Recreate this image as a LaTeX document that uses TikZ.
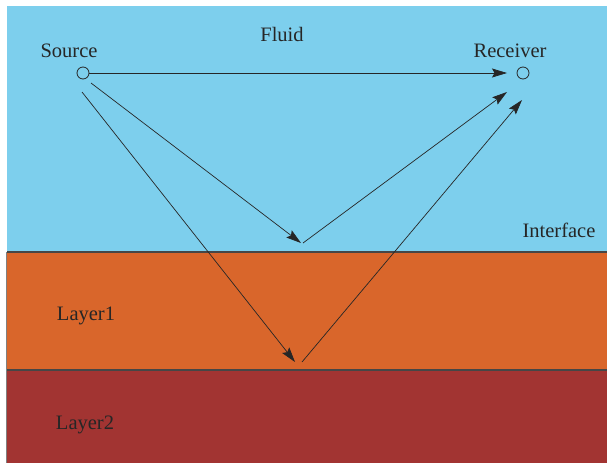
\documentclass[tikz,border=0pt]{standalone}
\usepackage{fontspec}
\setmainfont{Liberation Serif}
\usetikzlibrary{arrows.meta}
\definecolor{fluidc}{RGB}{125,207,237}
\definecolor{layoc}{RGB}{217,102,43}
\definecolor{laytc}{RGB}{162,52,50}
\definecolor{edgec}{RGB}{70,70,70}
\begin{document}
\begin{tikzpicture}[x=1pt,y=-1pt,
  lbl/.style={font=\fontsize{20.5}{24}\selectfont, text=black!85, inner sep=0},
  port/.style={circle, draw=black!85, line width=0.8pt, minimum size=12pt, inner sep=0},
  ray/.style={draw=black!85, line width=0.7pt, -{Stealth[length=15pt,width=9pt,inset=2.5pt]}}]
\useasboundingbox (0,0) rectangle (607,463);
\fill[white] (0,0) rectangle (607,463);
\fill[fluidc] (7,6) rectangle (607,252);
\fill[layoc] (7,252) rectangle (607,370);
\fill[laytc] (7,370) rectangle (607,463);
\draw[edgec, line width=1.2pt] (7,252) -- (607,252);
\draw[edgec, line width=1.2pt] (7,370) -- (607,370);
\draw[gray, line width=1pt] (6.5,252) -- (6.5,463);
\node[lbl] (src) at (69,51) {Source};
\node[lbl] (fluid) at (282,34) {Fluid};
\node[lbl] (rcv) at (510,51) {Receiver};
\node[lbl] (intf) at (559,230) {Interface};
\node[lbl] (l1) at (86,316) {Layer1};
\node[lbl] (l2) at (85,425) {Layer2};
\node[port] (s) at (83,73) {};
\node[port] (r) at (523,73) {};
\coordinate (p1) at (301,243);
\coordinate (p1b) at (303,243);
\coordinate (p2) at (295,362);
\coordinate (p2b) at (302,362);
\coordinate (rt1) at (507,92);
\coordinate (rt2) at (522,100);
\coordinate (sd1) at (91,83);
\coordinate (sd2) at (82,92);
\coordinate (rdir) at (507,73);
\draw[ray] (s) -- (rdir);
\draw[ray] (sd1) -- (p1);
\draw[ray] (p1b) -- (rt1);
\draw[ray] (sd2) -- (p2);
\draw[ray] (p2b) -- (rt2);
\end{tikzpicture}
\end{document}
